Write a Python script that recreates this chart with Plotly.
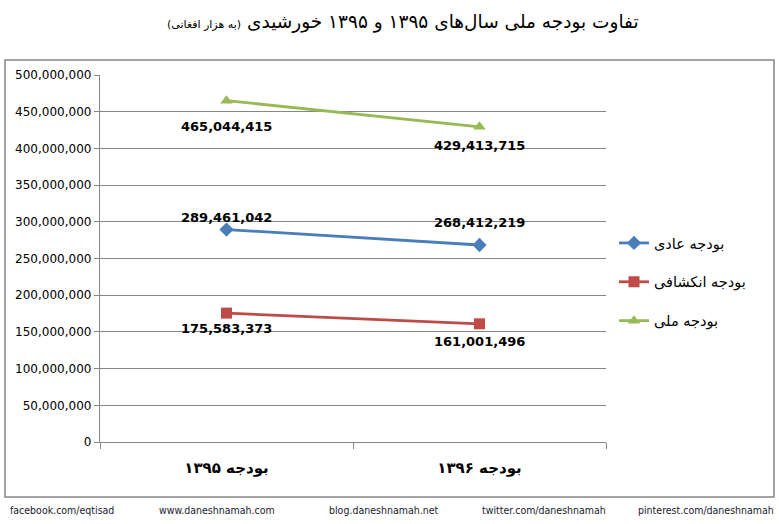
import plotly.graph_objects as go

categories = ["بودجه ۱۳۹۵", "بودجه ۱۳۹۶"]
series_names = ["بودجه عادی", "بودجه انکشافی", "بودجه ملی"]
ordinary = [289461042, 268412219]
development = [175583373, 161001496]
national = [465044415, 429413715]
y_ticks = [0, 50000000, 100000000, 150000000, 200000000, 250000000,
           300000000, 350000000, 400000000, 450000000, 500000000]
title_main = "تفاوت بودجه ملی سال‌های ۱۳۹۵ و ۱۳۹۵ خورشیدی"
title_unit = "(به هزار افغانی)"
footer = ["facebook.com/eqtisad", "www.daneshnamah.com", "blog.daneshnamah.net",
          "twitter.com/daneshnamah", "pinterest.com/daneshnamah"]

colors = ["#4A7EBB", "#BE4B48", "#98B954"]
symbols = ["diamond", "square", "triangle-up"]
sizes = [11, 11, 11]
series = [ordinary, development, national]
label_shift = [[12, 22], [-15, -18], [-26, -19]]

W, H = 779, 524
L, R, T, B = 100, 173, 75, 82
pw, ph = W - L - R, H - T - B

def px(x):
    return (x - L) / pw

def py(y):
    return (H - B - y) / ph

fig = go.Figure()
for i, (name, vals) in enumerate(zip(series_names, series)):
    fig.add_trace(go.Scatter(
        x=categories, y=vals, name=name, mode="lines+markers",
        legendgroup=f"g{i}",
        line=dict(color=colors[i], width=2.8),
        marker=dict(symbol=symbols[i], size=sizes[i], color=colors[i]),
    ))
    for j, v in enumerate(vals):
        fig.add_annotation(x=categories[j], y=v, xref="x", yref="y",
                           text=f"{v:,}", showarrow=False,
                           yshift=label_shift[i][j],
                           font=dict(family="DejaVu Sans", size=13, color="#000000", weight="bold"))

fig.add_annotation(x=px(641), y=py(22), xref="paper", yref="paper", xanchor="right",
                   yanchor="middle", text=title_main, showarrow=False,
                   font=dict(family="DejaVu Sans", size=18.5, color="#000000"))
fig.add_annotation(x=px(243), y=py(24), xref="paper", yref="paper", xanchor="right",
                   yanchor="middle", text=title_unit, showarrow=False,
                   font=dict(family="DejaVu Sans", size=11, color="#000000"))

foot_x = [8, 157, 327, 480, 776]
foot_anchor = ["left", "left", "left", "left", "right"]
for t, fx, fa in zip(footer, foot_x, foot_anchor):
    fig.add_annotation(x=px(fx), y=py(510), xref="paper", yref="paper", xanchor=fa,
                       yanchor="middle", text=t, showarrow=False,
                       font=dict(family="DejaVu Sans Condensed, Liberation Sans Narrow, sans-serif",
                                 size=10.5, color="#1a1a2e"))

fig.add_shape(type="rect", xref="paper", yref="paper",
              x0=px(5), x1=px(774), y0=py(497), y1=py(60),
              line=dict(color="#868686", width=1.5), layer="below")

fig.update_layout(
    width=W, height=H,
    margin=dict(l=L, r=R, t=T, b=B),
    paper_bgcolor="white", plot_bgcolor="white",
    showlegend=True,
    legend=dict(x=px(614), y=py(282), xanchor="left", yanchor="middle",
                font=dict(family="DejaVu Sans", size=14.5, color="#000000"),
                tracegroupgap=17, bgcolor="rgba(0,0,0,0)"),
    xaxis=dict(type="category", range=[-0.5, 1.5], showgrid=False,
               showline=True, linecolor="#868686", linewidth=1.3,
               ticks="outside", ticklen=6, tickcolor="#868686", tickson="boundaries",
               ticklabelstandoff=12,
               tickfont=dict(family="DejaVu Sans", size=15, color="#000000", weight="bold")),
    yaxis=dict(range=[0, 500000000], tickvals=y_ticks, tickformat=",",
               showgrid=True, gridcolor="#868686", gridwidth=1.2,
               showline=True, linecolor="#868686", linewidth=1.3,
               ticks="outside", ticklen=5, tickcolor="#868686",
               zeroline=False,
               tickfont=dict(family="DejaVu Sans", size=12, color="#000000")),
)

fig.write_html("out.html", config={"displayModeBar": False},
               post_script="document.body.style.margin='0';")
